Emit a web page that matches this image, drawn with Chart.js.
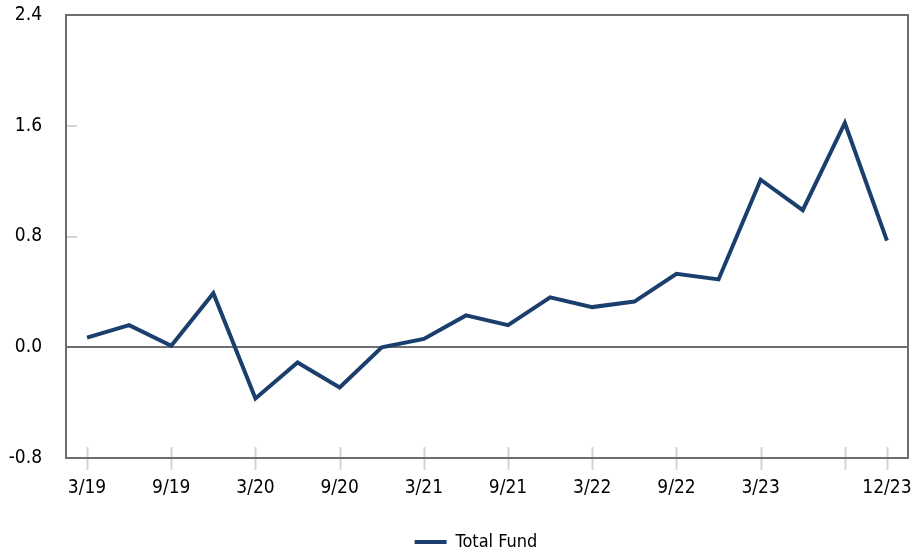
<!DOCTYPE html>
<html>
<head>
<meta charset="utf-8">
<script src="https://cdn.jsdelivr.net/npm/chart.js@4/dist/chart.umd.min.js"></script>
<style>
  html, body { margin: 0; padding: 0; background: #fff; }
  #wrap { width: 911px; height: 555px; }
</style>
</head>
<body>
<div id="wrap"><canvas id="fundChart"></canvas></div>
<script>
// quarter-end labels
const quarters = ['3/19','6/19','9/19','12/19','3/20','6/20','9/20','12/20','3/21','6/21','9/21','12/21',
                  '3/22','6/22','9/22','12/22','3/23','6/23','9/23','12/23'];
// Total Fund values
const totalFund = [0.07, 0.16, 0.01, 0.39, -0.37, -0.11, -0.29, 0.00, 0.06, 0.23, 0.16, 0.36,
                   0.29, 0.33, 0.53, 0.49, 1.21, 0.99, 1.62, 0.77];
// which quarters get a text label, and which get a tick mark
const shownLabels = ['3/19','9/19','3/20','9/20','3/21','9/21','3/22','9/22','3/23','12/23'];
const tickMarks = ['3/19','9/19','3/20','9/20','3/21','9/21','3/22','9/22','3/23','9/23','12/23'];
// y axis
const yMin = -0.8;
const yMax = 2.4;
const yStep = 0.8;

const FONT = "'Liberation Sans Narrow', 'Arial Narrow', 'DejaVu Sans Condensed', sans-serif";
const NAVY = '#1b3f6d';
const AXIS_GRAY = '#6e6e6e';
const TICK_GRAY = '#d4d4d4';

// frame, zero line and the little tick marks
const framePlugin = {
    id: 'frame',
    afterLayout(chart) {
        // legend in the original sits a bit right of the canvas centre
        chart.legend.left += 18;
        chart.legend.right += 18;
    },
    beforeDatasetsDraw(chart) {
        const { ctx, chartArea: a, scales: { x, y } } = chart;
        ctx.save();
        ctx.lineWidth = 2;
        ctx.strokeStyle = TICK_GRAY;
        // x tick marks crossing the bottom axis
        quarters.forEach((q, i) => {
            if (!tickMarks.includes(q)) return;
            const px = Math.round(x.getPixelForValue(i)) + 0.5;
            ctx.beginPath();
            ctx.moveTo(px, a.bottom - 11);
            ctx.lineTo(px, a.bottom + 12);
            ctx.stroke();
        });
        // y tick marks inside the plot
        y.ticks.forEach(t => {
            if (t.value === 0 || Math.abs(t.value - yMin) < 1e-6 || Math.abs(t.value - yMax) < 1e-6) return;
            const py = Math.round(y.getPixelForValue(t.value));
            ctx.beginPath();
            ctx.moveTo(a.left, py);
            ctx.lineTo(a.left + 11, py);
            ctx.stroke();
        });
        ctx.strokeStyle = AXIS_GRAY;
        ctx.strokeRect(a.left, a.top, a.right - a.left, a.bottom - a.top);
        const zy = Math.round(y.getPixelForValue(0));
        ctx.beginPath();
        ctx.moveTo(a.left, zy);
        ctx.lineTo(a.right, zy);
        ctx.stroke();
        ctx.restore();
    }
};

new Chart(document.getElementById('fundChart'), {
    type: 'line',
    data: {
        labels: quarters,
        datasets: [{
            label: 'Total Fund',
            data: totalFund,
            borderColor: NAVY,
            backgroundColor: NAVY,
            borderWidth: 4,
            pointRadius: 0,
            tension: 0,
            fill: false
        }]
    },
    options: {
        responsive: true,
        maintainAspectRatio: false,
        animation: false,
        layout: { padding: { left: 8, right: 3, top: 15, bottom: -6 } },
        plugins: {
            legend: {
                position: 'bottom',
                labels: {
                    boxWidth: 32,
                    boxHeight: 4,
                    padding: 4,
                    color: '#000',
                    font: { family: FONT, size: 18 },
                    generateLabels: chart =>
                        Chart.defaults.plugins.legend.labels.generateLabels(chart)
                            .map(l => ({ ...l, strokeStyle: 'rgba(0,0,0,0)' }))
                }
            },
            tooltip: { enabled: false }
        },
        scales: {
            x: {
                offset: true,
                grid: { display: false, drawTicks: false },
                border: { display: false },
                ticks: {
                    autoSkip: false,
                    maxRotation: 0,
                    padding: 19,
                    color: '#000',
                    font: { family: FONT, size: 19 },
                    callback: (v, i) => shownLabels.includes(quarters[i]) ? quarters[i] : ''
                },
                afterFit(scale) {
                    scale.height = 71;
                    scale.paddingLeft = 0;
                    scale.paddingRight = 0;
                }
            },
            y: {
                min: yMin,
                max: yMax,
                grid: { display: false, drawTicks: false },
                border: { display: false },
                ticks: {
                    stepSize: yStep,
                    padding: 24,
                    color: '#000',
                    font: { family: FONT, size: 19 },
                    callback: v => v.toFixed(1)
                },
                afterFit(scale) {
                    scale.width = 58;
                    scale.paddingTop = 0;
                    scale.paddingBottom = 0;
                }
            }
        }
    },
    plugins: [framePlugin]
});
</script>
</body>
</html>
